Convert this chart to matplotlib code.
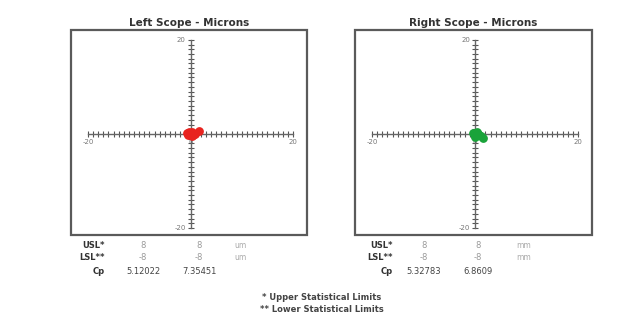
import numpy as np
import matplotlib
matplotlib.use('Agg')
import matplotlib.pyplot as plt
from matplotlib.patches import Rectangle
from matplotlib.ticker import FixedLocator

plt.rcParams['axes.unicode_minus'] = False

# scope readings (microns), clustered near the origin
left_x = [-0.7, -0.4, -0.1, 0.2, 0.5, -0.3, 0.3, 0.8, 1.6]
left_y = [0.2, -0.3, 0.1, 0.4, -0.2, 0.5, -0.5, 0.0, 0.6]
right_x = [-0.4, -0.1, 0.2, 0.5, 0.8, 0.0, 0.4, 1.1, 1.5]
right_y = [0.1, -0.4, 0.3, -0.1, -0.3, -0.6, 0.4, -0.5, -0.9]

titles = ['Left Scope - Microns', 'Right Scope - Microns']
row_labels = ['USL*', 'LSL**', 'Cp']
left_usl = ['8', '8']
left_lsl = ['-8', '-8']
left_cp = ['5.12022', '7.35451']
right_usl = ['8', '8']
right_lsl = ['-8', '-8']
right_cp = ['5.32783', '6.8609']
left_unit = 'um'
right_unit = 'mm'
footnotes = ['* Upper Statistical Limits', '** Lower Statistical Limits']

W, H = 632, 335


def px(x, y):
    return x / W, 1 - y / H


def draw_scope(ax, xs, ys, color, title):
    ax.set_xlim(-23.3, 22.7)
    ax.set_ylim(-21.5, 22.1)
    for s in ['top', 'right']:
        ax.spines[s].set_visible(False)
    ax.spines['left'].set_position(('data', 0))
    ax.spines['bottom'].set_position(('data', 0))
    ax.spines['left'].set_bounds(-20, 20)
    ax.spines['bottom'].set_bounds(-20, 20)
    for s in ['left', 'bottom']:
        ax.spines[s].set_color('#666666')
        ax.spines[s].set_linewidth(1.0)
    ax.set_xticks([-20, 0, 20])
    ax.set_yticks([-20, 20])
    minor = np.arange(-20, 21, 1)
    ax.xaxis.set_minor_locator(FixedLocator(minor))
    ax.yaxis.set_minor_locator(FixedLocator(minor))
    ax.tick_params(which='both', direction='inout', length=5, width=0.8,
                   color='#555555', labelsize=5, labelcolor='#777777', pad=1)
    ax.patch.set_visible(False)
    ax.add_patch(Rectangle((0, 0), 1, 1, transform=ax.transAxes, fill=False,
                           edgecolor='#5a5a5a', linewidth=1.6, clip_on=False))
    ax.scatter(xs, ys, s=28, color=color, zorder=5, clip_on=False)
    ax.set_title(title, fontsize=7.5, fontweight='bold', color='#333333', pad=3)


def draw_table(x_label, x_cols, x_unit, usl, lsl, cp, unit):
    ys = [246, 258, 271]
    vals = [usl, lsl, cp]
    for i, lab in enumerate(row_labels):
        fx, fy = px(x_label, ys[i])
        plt.figtext(fx, fy, lab, ha='right', va='center', fontsize=6,
                    fontweight='bold', color='#333333')
        for j, v in enumerate(vals[i]):
            fx, fy = px(x_cols[j], ys[i])
            c = '#444444' if i == 2 else '#9a9a9a'
            plt.figtext(fx, fy, v, ha='center', va='center', fontsize=6, color=c)
        if i < 2:
            fx, fy = px(x_unit, ys[i])
            plt.figtext(fx, fy, unit, ha='center', va='center', fontsize=5.5,
                        color='#aaaaaa')


def main():
    fig = plt.figure(figsize=(6.32, 3.35), dpi=100)
    ax1 = fig.add_axes([71 / W, 1 - 235 / H, (307 - 71) / W, (235 - 30) / H])
    ax2 = fig.add_axes([355 / W, 1 - 235 / H, (592 - 355) / W, (235 - 30) / H])

    draw_scope(ax1, left_x, left_y, '#e8231f', titles[0])
    draw_scope(ax2, right_x, right_y, '#1aa33a', titles[1])

    draw_table(105, [143, 199], 240, left_usl, left_lsl, left_cp, left_unit)
    draw_table(393, [424, 478], 524, right_usl, right_lsl, right_cp, right_unit)

    for k, t in enumerate(footnotes):
        fx, fy = px(322, 297 + 13 * k)
        plt.figtext(fx, fy, t, ha='center', va='center', fontsize=6,
                    fontweight='bold', color='#444444')

    fig.savefig('out.png', dpi=100, facecolor='white')


if __name__ == '__main__':
    main()
